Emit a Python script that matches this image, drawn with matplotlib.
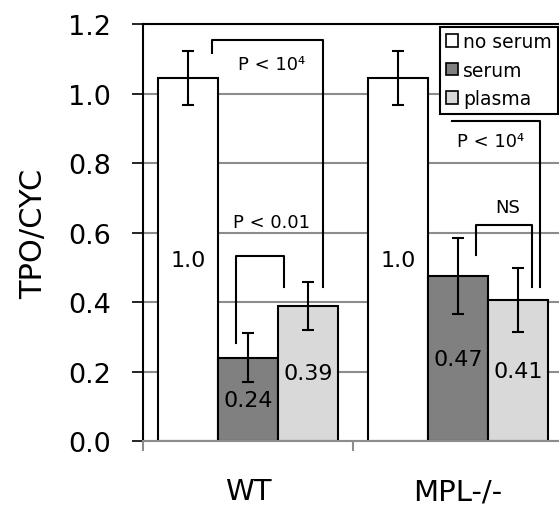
import matplotlib
matplotlib.use("Agg")
import matplotlib.pyplot as plt
from matplotlib.patches import Patch
import numpy as np

# data
groups = ["WT", "MPL-/-"]
conditions = ["no serum", "serum", "plasma"]
means = {"no serum": [1.045, 1.045],
         "serum": [0.24, 0.475],
         "plasma": [0.39, 0.405]}
errors = {"no serum": [0.077, 0.077],
          "serum": [0.07, 0.11],
          "plasma": [0.069, 0.092]}
bar_labels = {"no serum": ["1.0", "1.0"],
              "serum": ["0.24", "0.47"],
              "plasma": ["0.39", "0.41"]}
colors = {"no serum": "white", "serum": "#808080", "plasma": "#d9d9d9"}

# significance brackets: (x points, y points), text, text position
brackets = [
    ([-0.171, -0.171, 0.357, 0.357], [1.117, 1.154, 1.154, 0.444]),
    ([-0.057, -0.057, 0.171, 0.171], [0.282, 0.534, 0.534, 0.443]),
    ([0.97, 1.39, 1.39], [0.922, 0.922, 0.444]),
    ([1.084, 1.084, 1.351, 1.351], [0.536, 0.623, 0.623, 0.444]),
]
sig_texts = ["P < 10⁴", "P < 0.01", "P < 10⁴", "NS"]
sig_pos = [(0.11, 1.085), (0.11, 0.63), (1.157, 0.864), (1.238, 0.673)]

plt.rcParams.update({'font.family': 'DejaVu Sans'})
fig = plt.figure(figsize=(5.59, 5.10), dpi=100)
ax = fig.add_axes([143/559, 67.7/510, 420/559, 417.3/510])

x = np.arange(len(groups))
w = 0.286
for i, c in enumerate(conditions):
    pos = x + (i - 1) * w
    ax.bar(pos, means[c], w, color=colors[c], edgecolor="black", linewidth=1.5,
           zorder=2, label=c)
    ax.errorbar(pos, means[c], yerr=errors[c], fmt="none", ecolor="black",
                elinewidth=1.5, capsize=4.3, capthick=1.5, zorder=3)
    for p, v, s in zip(pos, means[c], bar_labels[c]):
        ax.text(p, v / 2, s, ha="center", va="center", fontsize=16, zorder=4)

for (bx, by), t, (tx, ty) in zip(brackets, sig_texts, sig_pos):
    ax.plot(bx, by, color="black", lw=1.5, zorder=4)
    ax.text(tx, ty, t, ha="center", va="center", fontsize=13, zorder=4)

ax.set_xlim(-0.5, 1.5)
ax.set_ylim(0, 1.2)
ax.set_yticks(np.arange(0, 1.21, 0.2))
ax.set_yticklabels(["%.1f" % v for v in np.arange(0, 1.21, 0.2)], fontsize=19.5)
ax.yaxis.grid(True, color="#8c8c8c", lw=1.5, zorder=0)
ax.set_axisbelow(True)
ax.tick_params(axis="y", direction="out", length=8, width=1.2, color="black", pad=15)

ax.set_xticks(x)
ax.set_xticklabels(groups, fontsize=21)
ax.set_xticks([-0.5, 0.5, 1.5], minor=True)
ax.tick_params(axis="x", which="major", length=0, pad=26)
ax.tick_params(axis="x", which="minor", direction="out", length=7, width=1.5,
               color="#8c8c8c")

ax.set_ylabel("TPO/CYC", fontsize=22, labelpad=14)

for s in ["left", "top"]:
    ax.spines[s].set_color("black")
    ax.spines[s].set_linewidth(1.5)
ax.spines["bottom"].set_color("#8c8c8c")
ax.spines["bottom"].set_linewidth(1.5)
ax.spines["right"].set_visible(False)

handles = [Patch(facecolor=colors[c], edgecolor="black", linewidth=1.2) for c in conditions]
leg = ax.legend(handles, conditions, loc="upper left", bbox_to_anchor=(0.707, 0.994),
                fontsize=13.5, frameon=True, fancybox=False, framealpha=1,
                edgecolor="black", handlelength=0.65, handleheight=0.65,
                handletextpad=0.3, labelspacing=0.5, borderpad=0.3,
                borderaxespad=0)
leg.get_frame().set_linewidth(1.5)
leg.set_zorder(5)

fig.savefig("out.png", dpi=100)
